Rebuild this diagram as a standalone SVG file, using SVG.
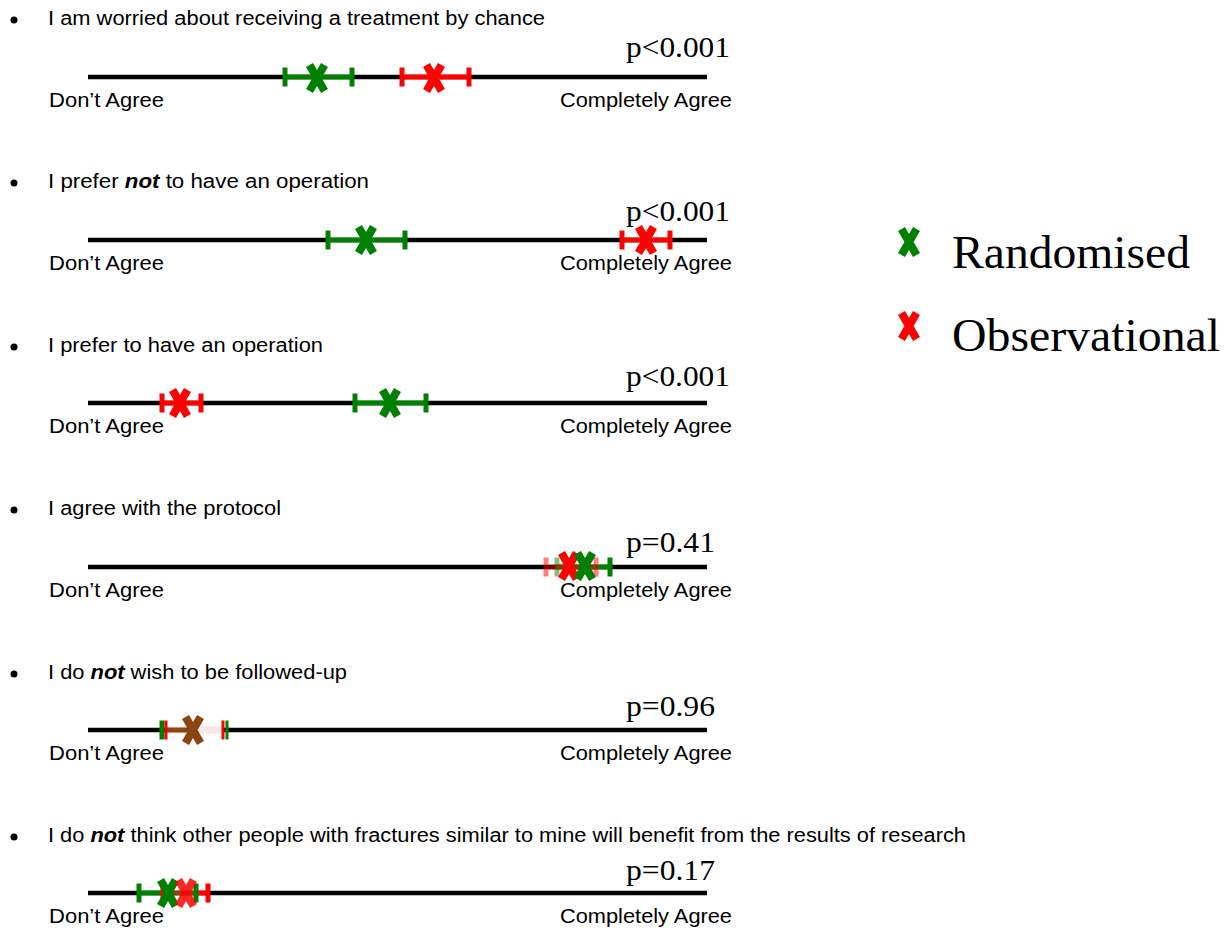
<svg xmlns="http://www.w3.org/2000/svg" width="1229" height="930" viewBox="0 0 1229 930">
<style>
.q{font-family:"Liberation Sans",Arial,sans-serif;font-size:20px;fill:#000}
.lab{font-family:"Liberation Sans",Arial,sans-serif;font-size:21px;fill:#000}
.p{font-family:"Liberation Serif","Times New Roman",serif;font-size:29px;fill:#000}
.leg{font-family:"Liberation Serif","Times New Roman",serif;font-size:46px;fill:#000}
.axis{stroke:#000;stroke-width:4.5}
.g{stroke:#008000;fill:none}
.r{stroke:#ff0000;fill:none}
.b{stroke:#8b4513;fill:none}
.bar{stroke-width:5}
.tick{stroke-width:5}
.x{stroke-width:8;stroke-linecap:butt}
</style>
<defs>
<path id="X" d="M-7.5,-13 L7.5,13 M7.5,-13 L-7.5,13"/>
<path id="T" d="M0,-9.5 V9.5"/>
</defs>

<g id="legend">
<use href="#X" x="909" y="242" class="g x"/>
<text class="leg" x="952" y="268" textLength="238" lengthAdjust="spacingAndGlyphs">Randomised</text>
<use href="#X" x="909" y="326" class="r x"/>
<text class="leg" x="952" y="351" textLength="268" lengthAdjust="spacingAndGlyphs">Observational</text>
</g>

<g id="row1">
<circle cx="14" cy="20" r="3.5"/>
<text class="q" x="48" y="25" textLength="497" lengthAdjust="spacingAndGlyphs">I am worried about receiving a treatment by chance</text>
<line class="axis" x1="88" y1="77" x2="707" y2="77"/>
<text class="p" x="626" y="57" textLength="104" lengthAdjust="spacingAndGlyphs">p&lt;0.001</text>
<text class="lab" x="49" y="107" textLength="115" lengthAdjust="spacingAndGlyphs">Don’t Agree</text>
<text class="lab" x="560" y="107" textLength="172" lengthAdjust="spacingAndGlyphs">Completely Agree</text>
<line class="g bar" x1="283" y1="77" x2="353" y2="77"/>
<use href="#T" x="285" y="77" class="g tick"/><use href="#T" x="352" y="77" class="g tick"/>
<use href="#X" x="317" y="78" class="g x"/>
<line class="r bar" x1="401" y1="77" x2="470" y2="77"/>
<use href="#T" x="402" y="77" class="r tick"/><use href="#T" x="469" y="77" class="r tick"/>
<use href="#X" x="434" y="78" class="r x"/>
</g>

<g id="row2">
<circle cx="14" cy="183" r="3.5"/>
<text class="q" x="48" y="188" textLength="321" lengthAdjust="spacingAndGlyphs">I prefer <tspan font-weight="bold" font-style="italic">not</tspan> to have an  operation</text>
<line class="axis" x1="88" y1="240" x2="707" y2="240"/>
<text class="p" x="626" y="221" textLength="104" lengthAdjust="spacingAndGlyphs">p&lt;0.001</text>
<text class="lab" x="49" y="270" textLength="115" lengthAdjust="spacingAndGlyphs">Don’t Agree</text>
<text class="lab" x="560" y="270" textLength="172" lengthAdjust="spacingAndGlyphs">Completely Agree</text>
<line class="g bar" x1="327" y1="240" x2="406" y2="240"/>
<use href="#T" x="328" y="240" class="g tick"/><use href="#T" x="405" y="240" class="g tick"/>
<use href="#X" x="366" y="240" class="g x"/>
<line class="r bar" x1="621" y1="240" x2="671" y2="240"/>
<use href="#T" x="622" y="240" class="r tick"/><use href="#T" x="670" y="240" class="r tick"/>
<use href="#X" x="646" y="240" class="r x"/>
</g>

<g id="row3">
<circle cx="14" cy="347" r="3.5"/>
<text class="q" x="48" y="352" textLength="275" lengthAdjust="spacingAndGlyphs">I prefer to have an operation</text>
<line class="axis" x1="88" y1="403" x2="707" y2="403"/>
<text class="p" x="626" y="386" textLength="104" lengthAdjust="spacingAndGlyphs">p&lt;0.001</text>
<text class="lab" x="49" y="433" textLength="115" lengthAdjust="spacingAndGlyphs">Don’t Agree</text>
<text class="lab" x="560" y="433" textLength="172" lengthAdjust="spacingAndGlyphs">Completely Agree</text>
<line class="r bar" x1="161" y1="403" x2="202" y2="403"/>
<use href="#T" x="162" y="403" class="r tick"/><use href="#T" x="201" y="403" class="r tick"/>
<use href="#X" x="180" y="403" class="r x"/>
<line class="g bar" x1="354" y1="403" x2="427" y2="403"/>
<use href="#T" x="355" y="403" class="g tick"/><use href="#T" x="426" y="403" class="g tick"/>
<use href="#X" x="390" y="403" class="g x"/>
</g>

<g id="row4">
<circle cx="14" cy="510" r="3.5"/>
<text class="q" x="48" y="515" textLength="233" lengthAdjust="spacingAndGlyphs">I agree with the protocol</text>
<line class="axis" x1="88" y1="567" x2="707" y2="567"/>
<text class="p" x="626" y="552" textLength="89" lengthAdjust="spacingAndGlyphs">p=0.41</text>
<text class="lab" x="49" y="597" textLength="115" lengthAdjust="spacingAndGlyphs">Don’t Agree</text>
<text class="lab" x="560" y="597" textLength="172" lengthAdjust="spacingAndGlyphs">Completely Agree</text>
<line class="g bar" x1="556" y1="567" x2="611" y2="567"/>
<use href="#T" x="557" y="567" class="g tick" opacity="0.5"/><use href="#T" x="610" y="567" class="g tick"/>
<g opacity="0.5">
<line class="r bar" x1="545" y1="567" x2="597" y2="567"/>
<use href="#T" x="546" y="567" class="r tick"/><use href="#T" x="596" y="567" class="r tick"/>
</g>
<use href="#X" x="569" y="566" class="r x"/>
<use href="#X" x="585" y="566" class="g x"/>
</g>

<g id="row5">
<circle cx="14" cy="674" r="3.5"/>
<text class="q" x="48" y="679" textLength="299" lengthAdjust="spacingAndGlyphs">I do <tspan font-weight="bold" font-style="italic">not</tspan> wish to be followed-up</text>
<line class="axis" x1="88" y1="730" x2="707" y2="730"/>
<text class="p" x="626" y="716" textLength="89" lengthAdjust="spacingAndGlyphs">p=0.96</text>
<text class="lab" x="49" y="760" textLength="115" lengthAdjust="spacingAndGlyphs">Don’t Agree</text>
<text class="lab" x="560" y="760" textLength="172" lengthAdjust="spacingAndGlyphs">Completely Agree</text>
<line stroke="#f6e6e6" stroke-width="7" x1="166" y1="730" x2="222" y2="730"/>
<line class="b bar" x1="166" y1="730" x2="194" y2="730"/>
<use href="#T" x="162" y="730" class="g tick"/>
<use href="#T" x="166" y="730" class="r tick" style="stroke-width:3"/>
<use href="#T" x="223" y="730" class="r tick" style="stroke-width:3"/>
<use href="#T" x="227" y="730" class="g tick" style="stroke-width:3"/>
<use href="#X" x="193" y="730" class="b x"/>
</g>

<g id="row6">
<circle cx="14" cy="837" r="3.5"/>
<text class="q" x="48" y="842" textLength="918" lengthAdjust="spacingAndGlyphs">I do <tspan font-weight="bold" font-style="italic">not</tspan> think other people with fractures similar to mine will benefit from the results of research</text>
<line class="axis" x1="88" y1="893" x2="707" y2="893"/>
<text class="p" x="626" y="880" textLength="89" lengthAdjust="spacingAndGlyphs">p=0.17</text>
<text class="lab" x="49" y="923" textLength="115" lengthAdjust="spacingAndGlyphs">Don’t Agree</text>
<text class="lab" x="560" y="923" textLength="172" lengthAdjust="spacingAndGlyphs">Completely Agree</text>
<line class="g bar" x1="138" y1="893" x2="163" y2="893"/>
<line class="b bar" x1="163" y1="893" x2="197" y2="893"/>
<line class="r bar" x1="197" y1="893" x2="208" y2="893"/>
<use href="#T" x="139" y="893" class="g tick"/><use href="#T" x="196" y="893" class="g tick"/>
<use href="#T" x="163" y="893" class="r tick"/><use href="#T" x="208" y="893" class="r tick"/>
<use href="#X" x="168" y="893" class="g x"/>
<use href="#X" x="186" y="893" class="r x" opacity="0.85"/>
</g>
</svg>
